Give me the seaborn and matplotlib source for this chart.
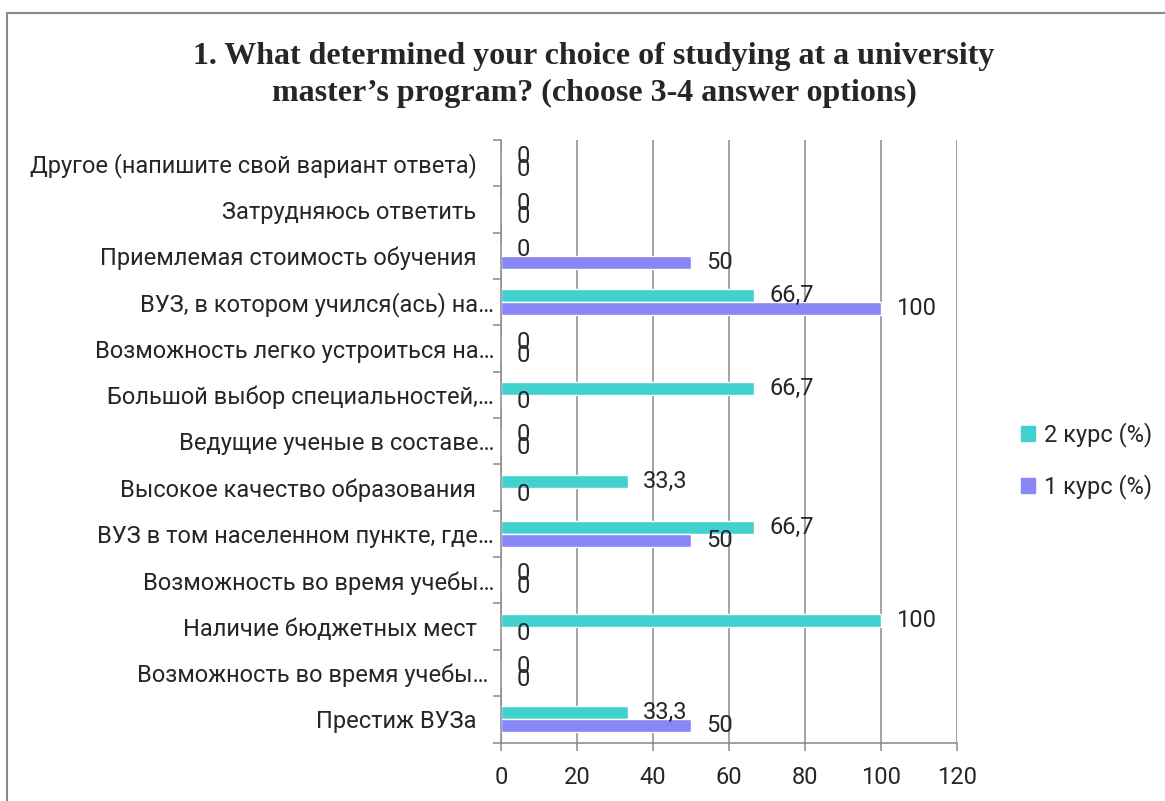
import numpy as np
import pandas as pd
import seaborn as sns
import matplotlib.pyplot as plt
from matplotlib.patches import Rectangle
from matplotlib.ticker import FixedLocator

# categories top -> bottom
categories = [
    "Другое (напишите свой вариант ответа)   ",
    "Затрудняюсь ответить   ",
    "Приемлемая стоимость обучения   ",
    "ВУЗ, в котором учился(ась) на…",
    "Возможность легко устроиться на…",
    "Большой выбор специальностей,…",
    "Ведущие ученые в составе…",
    "Высокое качество образования   ",
    "ВУЗ в том населенном пункте, где…",
    "Возможность во время учебы…",
    "Наличие бюджетных мест   ",
    "Возможность во время учебы… ",
    "Престиж ВУЗа   ",
]
kurs2 = [0, 0, 0, 66.7, 0, 66.7, 0, 33.3, 66.7, 0, 100, 0, 33.3]
kurs1 = [0, 0, 50, 100, 0, 0, 0, 0, 50, 0, 0, 0, 50]
series = ["2 курс (%)", "1 курс (%)"]
colors = ["#41D2D0", "#8787F7"]
x_ticks = [0, 20, 40, 60, 80, 100, 120]

df = pd.DataFrame({
    "cat": categories * 2,
    "val": kurs2 + kurs1,
    "series": [series[0]] * len(categories) + [series[1]] * len(categories),
})

sns.set_style("white")
plt.rcParams["font.family"] = ["Roboto", "DejaVu Sans"]
FS = 17

fig = plt.figure(figsize=(11.65, 8.01), dpi=100)
ax = fig.add_axes([501 / 1165, 1 - 742.5 / 801, 456 / 1165, 602.5 / 801])

sns.barplot(data=df, y="cat", x="val", hue="series", hue_order=series,
            order=categories, palette=colors, orient="h", width=0.56,
            saturation=1, ax=ax, legend=True)

ax.set_xlim(0, 120)
ax.set_ylim(len(categories) - 0.5, -0.5)
ax.set_xticks(x_ticks)
ax.set_xticklabels([str(t) for t in x_ticks])
ax.set_xlabel("")
ax.set_ylabel("")
ax.grid(axis="x", color="#898989", linewidth=1.1)
ax.set_axisbelow(True)
for s in ["top", "right"]:
    ax.spines[s].set_visible(False)
for s in ["left", "bottom"]:
    ax.spines[s].set_color("#898989")
    ax.spines[s].set_linewidth(1.1)

ax.yaxis.set_minor_locator(FixedLocator(np.arange(-0.5, len(categories), 1)))
ax.tick_params(axis="y", which="major", length=0, pad=5, labelsize=FS)
ax.tick_params(axis="y", which="minor", left=True, length=6, width=1.1, color="#898989")
ax.tick_params(axis="x", which="major", bottom=True, length=6, width=1.1,
               color="#898989", pad=11, labelsize=FS)

for cont in ax.containers:
    labels = [f"{v:g}".replace(".", ",") for v in cont.datavalues]
    ax.bar_label(cont, labels=labels, padding=11, fontsize=FS)

ax.legend_.remove()
handles = [Rectangle((0, 0), 1, 1, color=c) for c in colors]
fig.legend(handles, series, loc="center left", bbox_to_anchor=(1000 / 1165, 1 - 461 / 801),
           frameon=False, fontsize=FS, handlelength=0.6, handleheight=0.6,
           handletextpad=0.35, labelspacing=1.15)

fig.text(594 / 1165, 1 - 75 / 801,
         "1. What determined your choice of studying at a university\nmaster’s program? (choose 3-4 answer options)",
         ha="center", va="center", fontsize=23, fontweight="bold",
         family="Liberation Serif", linespacing=1.35)

fig.patches.append(Rectangle((7 / 1165, -0.1), 1.2, 1.1 - 13 / 801, transform=fig.transFigure,
                             fill=False, edgecolor="#898989", linewidth=1.5))

fig.savefig("out.png", dpi=100)
